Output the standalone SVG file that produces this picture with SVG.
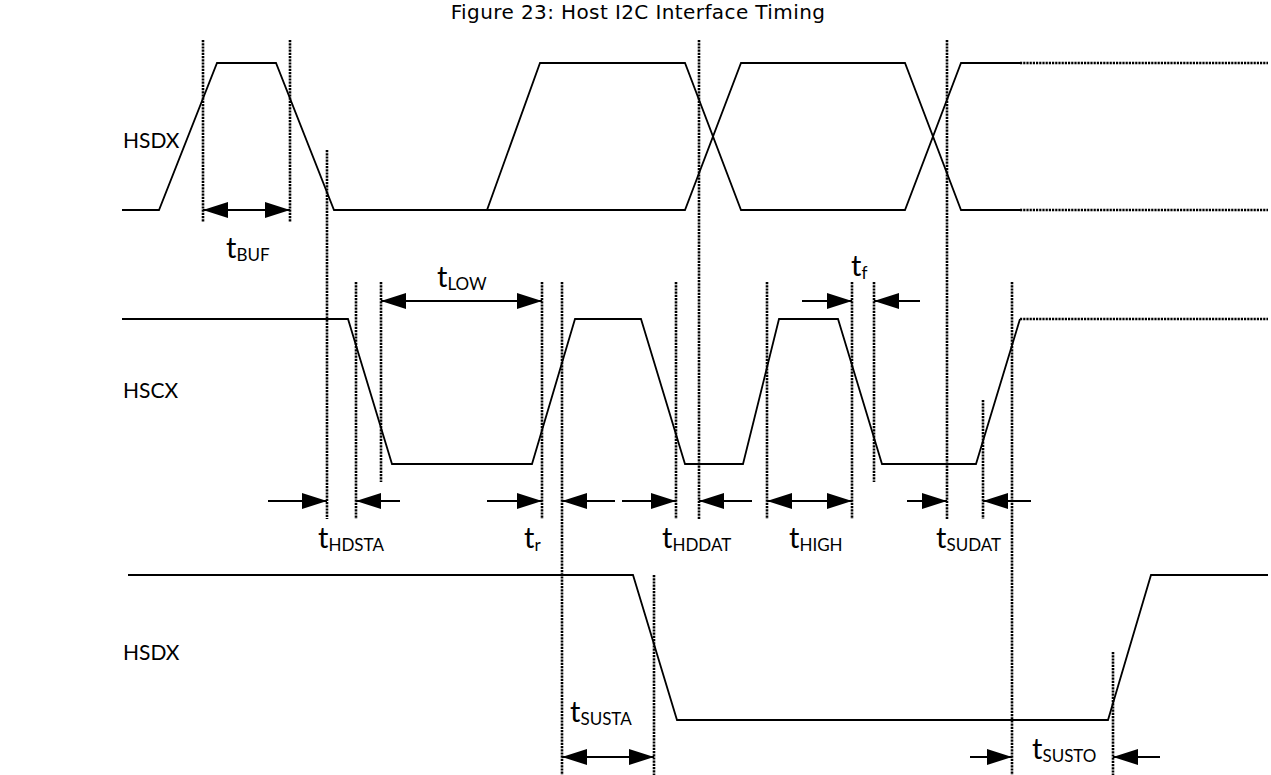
<svg xmlns="http://www.w3.org/2000/svg" width="1271" height="775" viewBox="0 0 1271 775">
<style>
.bg{fill:#fff}
.sig{fill:none;stroke:#000;stroke-width:1.8;stroke-linejoin:miter}
.dot{fill:none;stroke:#000;stroke-width:2.6;stroke-dasharray:2.2 1}
.arr{fill:none;stroke:#000;stroke-width:2}
.title{font-family:"DejaVu Sans",Verdana,sans-serif;font-size:20px;letter-spacing:0.4px;fill:#000}
.lbl{font-family:Lato,"Open Sans",sans-serif;font-size:21px;fill:#000}
.t{font-family:Lato,"Open Sans",sans-serif;font-size:29px;fill:#000}
.sub{font-size:17px}
</style>
<defs>
<marker id="ah" markerUnits="userSpaceOnUse" markerWidth="25" markerHeight="16" refX="25" refY="8" orient="auto-start-reverse">
<path d="M0,0 L25,8 L0,16 z" fill="#000"/>
</marker>
</defs>
<rect class="bg" x="0" y="0" width="1271" height="775"/>
<text id="title" class="title" x="638" y="19" text-anchor="middle">Figure 23: Host I2C Interface Timing</text>

<g id="label-hsdx-top"><text class="lbl" x="123" y="148">HSDX</text></g>
<g id="label-hscx"><text class="lbl" x="123" y="398">HSCX</text></g>
<g id="label-hsdx-bottom"><text class="lbl" x="123" y="660">HSDX</text></g>

<g id="signal-hsdx-top">
<path class="sig" d="M122,210 H159 L217,63 H276 L334,210 H487 L540,63 H685 L741,210 H905 L961,63 H1020"/>
<path class="sig" d="M487,210 H685 L741,63 H905 L961,210 H1020"/>
<path class="dot" d="M1020,63 H1268 M1020,210 H1268"/>
</g>

<g id="signal-hscx">
<path class="sig" d="M122,319 H348 L392,464 H532 L575,319 H641 L685,464 H743 L779,319 H838 L882,464 H976 L1020,319"/>
<path class="dot" d="M1020,319 H1268"/>
</g>

<g id="signal-hsdx-bottom">
<path class="sig" d="M128,575 H633 L677,720 H1108 L1151,575 H1268"/>
</g>

<g id="guides">
<path class="dot" d="M203,40 V222 M290,40 V222 M327,150 V519 M356,282 V519 M381,282 V482 M542,282 V519 M562,282 V775 M676,282 V519 M699,40 V519 M767,282 V519 M852,282 V519 M874,282 V482 M947,40 V519 M983,400 V519 M1012,282 V775 M654,575 V775 M1113,652 V775"/>
</g>

<g id="connectors">
<line class="arr" x1="203" y1="210" x2="290" y2="210" marker-start="url(#ah)" marker-end="url(#ah)"/>
<line class="arr" x1="381" y1="301" x2="542" y2="301" marker-start="url(#ah)" marker-end="url(#ah)"/>
<line class="arr" x1="802" y1="301" x2="852" y2="301" marker-end="url(#ah)"/>
<line class="arr" x1="920" y1="301" x2="874" y2="301" marker-end="url(#ah)"/>
<line class="arr" x1="268" y1="501" x2="327" y2="501" marker-end="url(#ah)"/>
<line class="arr" x1="400" y1="501" x2="356" y2="501" marker-end="url(#ah)"/>
<line class="arr" x1="487" y1="501" x2="542" y2="501" marker-end="url(#ah)"/>
<line class="arr" x1="615" y1="501" x2="562" y2="501" marker-end="url(#ah)"/>
<line class="arr" x1="622" y1="501" x2="676" y2="501" marker-end="url(#ah)"/>
<line class="arr" x1="752" y1="501" x2="699" y2="501" marker-end="url(#ah)"/>
<line class="arr" x1="767" y1="501" x2="852" y2="501" marker-start="url(#ah)" marker-end="url(#ah)"/>
<line class="arr" x1="907" y1="501" x2="947" y2="501" marker-end="url(#ah)"/>
<line class="arr" x1="1031" y1="501" x2="983" y2="501" marker-end="url(#ah)"/>
<line class="arr" x1="562" y1="757" x2="654" y2="757" marker-start="url(#ah)" marker-end="url(#ah)"/>
<line class="arr" x1="970" y1="757" x2="1012" y2="757" marker-end="url(#ah)"/>
<line class="arr" x1="1160" y1="757" x2="1113" y2="757" marker-end="url(#ah)"/>
</g>

<g id="timing-labels">
<text class="t" x="226" y="258">t<tspan class="sub" dy="3">BUF</tspan></text>
<text class="t" x="437" y="287">t<tspan class="sub" dy="3">LOW</tspan></text>
<text class="t" x="851" y="276">t<tspan class="sub" dy="3">f</tspan></text>
<text class="t" x="318" y="548">t<tspan class="sub" dy="3">HDSTA</tspan></text>
<text class="t" x="524" y="548">t<tspan class="sub" dy="3">r</tspan></text>
<text class="t" x="662" y="548">t<tspan class="sub" dy="3">HDDAT</tspan></text>
<text class="t" x="789" y="548">t<tspan class="sub" dy="3">HIGH</tspan></text>
<text class="t" x="936" y="548">t<tspan class="sub" dy="3">SUDAT</tspan></text>
<text class="t" x="570" y="722">t<tspan class="sub" dy="3">SUSTA</tspan></text>
<text class="t" x="1032" y="759">t<tspan class="sub" dy="3">SUSTO</tspan></text>
</g>
</svg>
